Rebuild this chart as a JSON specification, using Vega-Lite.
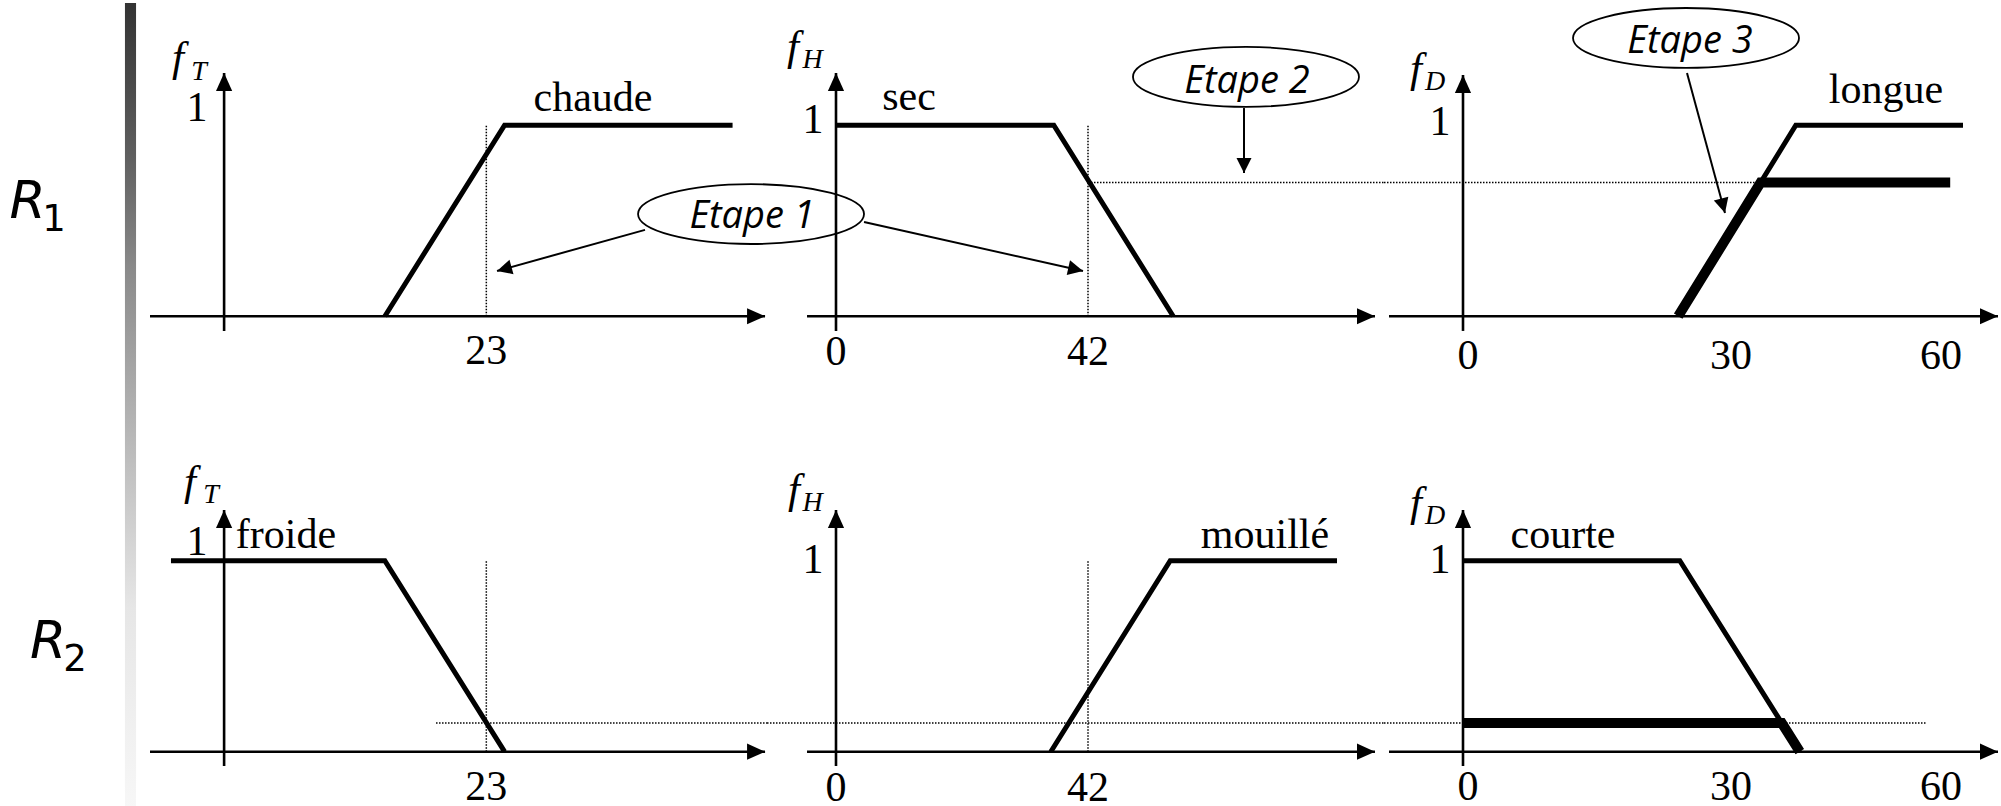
{
  "$schema": "https://vega.github.io/schema/vega-lite/v6.json",
  "padding": 0,
  "background": "white",
  "spacing": 0,
  "bounds": "flush",
  "config": {"view": {"stroke": null}, "axis": {"disable": true}, "legend": {"disable": true}},
  "datasets": {
    "rules": [
      {"type": "bar", "x": 0.833, "x2": 0.907, "y": 0, "y2": 1},
      {"type": "text", "role": "R", "text": "R", "x": 0.183, "y": 0.7333},
      {"type": "text", "role": "idx", "text": "1", "x": 0.36, "y": 0.7171},
      {"type": "text", "role": "R", "text": "R", "x": 0.32, "y": 0.1873},
      {"type": "text", "role": "idx", "text": "2", "x": 0.5, "y": 0.1712}
    ],
    "panels": [
      {"type": "frame", "rule": "R1", "var": "T", "x": -6.5, "y": -0.47},
      {"type": "frame", "rule": "R1", "var": "T", "x": 47.62, "y": 1.64},
      {"type": "axis", "rule": "R1", "var": "T", "x": -6.5, "x2": 47.45, "y": 0, "y2": 0, "dir": "right"},
      {"type": "axis", "rule": "R1", "var": "T", "x": 0, "x2": 0, "y": -0.077, "y2": 1.273, "dir": "up"},
      {"type": "mf", "rule": "R1", "var": "T", "term": "chaude", "i": 1, "x": 14.1, "y": 0},
      {"type": "mf", "rule": "R1", "var": "T", "term": "chaude", "i": 2, "x": 24.6, "y": 1},
      {"type": "mf", "rule": "R1", "var": "T", "term": "chaude", "i": 3, "x": 44.6, "y": 1},
      {"type": "guide", "rule": "R1", "var": "T", "x": 23, "x2": 23, "y": 0, "y2": 1},
      {"type": "text", "role": "num", "rule": "R1", "var": "T", "text": "1", "x": -2.38, "y": 1.022},
      {"type": "text", "role": "num", "rule": "R1", "var": "T", "text": "23", "x": 23, "y": -0.25},
      {"type": "text", "role": "f", "rule": "R1", "var": "T", "text": "f", "x": -4.04, "y": 1.284},
      {"type": "text", "role": "sub", "rule": "R1", "var": "T", "text": "T", "x": -2.2, "y": 1.237},
      {"type": "text", "role": "term", "rule": "R1", "var": "T", "text": "chaude", "x": 32.36, "y": 1.075},
      {"type": "text", "role": "etape", "rule": "R1", "var": "T", "text": "Etape 1", "x": 46.31, "y": 0.462},
      {"type": "ellipse", "rule": "R1", "var": "T", "x": 46.22, "y": 0.535},
      {"type": "arrow", "rule": "R1", "var": "T", "x": 36.92, "y": 0.452, "x2": 23.94, "y2": 0.237, "dir": "wsw"},

      {"type": "frame", "rule": "R1", "var": "H", "x": -11.5, "y": -0.47},
      {"type": "frame", "rule": "R1", "var": "H", "x": 91.333, "y": 1.64},
      {"type": "axis", "rule": "R1", "var": "H", "x": -4.83, "x2": 89.83, "y": 0, "y2": 0, "dir": "right"},
      {"type": "axis", "rule": "R1", "var": "H", "x": 0, "x2": 0, "y": -0.077, "y2": 1.273, "dir": "up"},
      {"type": "mf", "rule": "R1", "var": "H", "term": "sec", "i": 1, "x": 0, "y": 1},
      {"type": "mf", "rule": "R1", "var": "H", "term": "sec", "i": 2, "x": 36.3, "y": 1},
      {"type": "mf", "rule": "R1", "var": "H", "term": "sec", "i": 3, "x": 56.2, "y": 0},
      {"type": "guide", "rule": "R1", "var": "H", "x": 42, "x2": 42, "y": 0, "y2": 1},
      {"type": "guide", "rule": "R1", "var": "H", "x": 42, "x2": 91.333, "y": 0.7, "y2": 0.7},
      {"type": "text", "role": "num", "rule": "R1", "var": "H", "text": "1", "x": -3.83, "y": 0.959},
      {"type": "text", "role": "num", "rule": "R1", "var": "H", "text": "0", "x": 0, "y": -0.255},
      {"type": "text", "role": "num", "rule": "R1", "var": "H", "text": "42", "x": 42, "y": -0.255},
      {"type": "text", "role": "f", "rule": "R1", "var": "H", "text": "f", "x": -7.17, "y": 1.342},
      {"type": "text", "role": "sub", "rule": "R1", "var": "H", "text": "H", "x": -3.9, "y": 1.3},
      {"type": "text", "role": "term", "rule": "R1", "var": "H", "text": "sec", "x": 12.17, "y": 1.08},
      {"type": "text", "role": "etape", "rule": "R1", "var": "H", "text": "Etape 2", "x": 68.5, "y": 1.169},
      {"type": "ellipse", "rule": "R1", "var": "H", "x": 68.33, "y": 1.253},
      {"type": "arrow", "rule": "R1", "var": "H", "x": 4.67, "y": 0.493, "x2": 41.17, "y2": 0.237, "dir": "ese"},
      {"type": "arrow", "rule": "R1", "var": "H", "x": 68, "y": 1.09, "x2": 68, "y2": 0.75, "dir": "s"},

      {"type": "frame", "rule": "R1", "var": "D", "x": -9.875, "y": -0.47},
      {"type": "frame", "rule": "R1", "var": "D", "x": 67.25, "y": 1.64},
      {"type": "axis", "rule": "R1", "var": "D", "x": -9.25, "x2": 66.875, "y": 0, "y2": 0, "dir": "right"},
      {"type": "axis", "rule": "R1", "var": "D", "x": 0, "x2": 0, "y": -0.077, "y2": 1.263, "dir": "up"},
      {"type": "mf", "rule": "R1", "var": "D", "term": "longue", "i": 1, "x": 26.9, "y": 0},
      {"type": "mf", "rule": "R1", "var": "D", "term": "longue", "i": 2, "x": 41.6, "y": 1},
      {"type": "mf", "rule": "R1", "var": "D", "term": "longue", "i": 3, "x": 62.5, "y": 1},
      {"type": "cut", "rule": "R1", "var": "D", "term": "longue", "i": 1, "x": 26.9, "y": 0},
      {"type": "cut", "rule": "R1", "var": "D", "term": "longue", "i": 2, "x": 37.2, "y": 0.7},
      {"type": "cut", "rule": "R1", "var": "D", "term": "longue", "i": 3, "x": 60.9, "y": 0.7},
      {"type": "guide", "rule": "R1", "var": "D", "x": -9.875, "x2": 37.2, "y": 0.7, "y2": 0.7},
      {"type": "text", "role": "num", "rule": "R1", "var": "D", "text": "1", "x": -2.875, "y": 0.949},
      {"type": "text", "role": "num", "rule": "R1", "var": "D", "text": "0", "x": 0.625, "y": -0.276},
      {"type": "text", "role": "num", "rule": "R1", "var": "D", "text": "30", "x": 33.5, "y": -0.276},
      {"type": "text", "role": "num", "rule": "R1", "var": "D", "text": "60", "x": 59.75, "y": -0.276},
      {"type": "text", "role": "f", "rule": "R1", "var": "D", "text": "f", "x": -5.875, "y": 1.226},
      {"type": "text", "role": "sub", "rule": "R1", "var": "D", "text": "D", "x": -3.5, "y": 1.185},
      {"type": "text", "role": "term", "rule": "R1", "var": "D", "text": "longue", "x": 52.875, "y": 1.116},
      {"type": "text", "role": "etape", "rule": "R1", "var": "D", "text": "Etape 3", "x": 28.375, "y": 1.378},
      {"type": "ellipse", "rule": "R1", "var": "D", "x": 27.875, "y": 1.457},
      {"type": "arrow", "rule": "R1", "var": "D", "x": 28, "y": 1.273, "x2": 32.75, "y2": 0.54, "dir": "sse"},

      {"type": "frame", "rule": "R2", "var": "T", "x": -6.5, "y": -0.3},
      {"type": "frame", "rule": "R2", "var": "T", "x": 47.62, "y": 1.81},
      {"type": "axis", "rule": "R2", "var": "T", "x": -6.5, "x2": 47.45, "y": 0, "y2": 0, "dir": "right"},
      {"type": "axis", "rule": "R2", "var": "T", "x": 0, "x2": 0, "y": -0.075, "y2": 1.266, "dir": "up"},
      {"type": "mf", "rule": "R2", "var": "T", "term": "froide", "i": 1, "x": -4.66, "y": 1},
      {"type": "mf", "rule": "R2", "var": "T", "term": "froide", "i": 2, "x": 14.1, "y": 1},
      {"type": "mf", "rule": "R2", "var": "T", "term": "froide", "i": 3, "x": 24.6, "y": 0},
      {"type": "guide", "rule": "R2", "var": "T", "x": 23, "x2": 23, "y": 0, "y2": 1},
      {"type": "guide", "rule": "R2", "var": "T", "x": 18.59, "x2": 47.62, "y": 0.15, "y2": 0.15},
      {"type": "text", "role": "num", "rule": "R2", "var": "T", "text": "1", "x": -2.38, "y": 1.03},
      {"type": "text", "role": "num", "rule": "R2", "var": "T", "text": "23", "x": 23, "y": -0.253},
      {"type": "text", "role": "f", "rule": "R2", "var": "T", "text": "f", "x": -2.99, "y": 1.344},
      {"type": "text", "role": "sub", "rule": "R2", "var": "T", "text": "T", "x": -1.15, "y": 1.302},
      {"type": "text", "role": "term", "rule": "R2", "var": "T", "text": "froide", "x": 5.43, "y": 1.067},

      {"type": "frame", "rule": "R2", "var": "H", "x": -11.5, "y": -0.3},
      {"type": "frame", "rule": "R2", "var": "H", "x": 91.333, "y": 1.81},
      {"type": "axis", "rule": "R2", "var": "H", "x": -4.83, "x2": 89.83, "y": 0, "y2": 0, "dir": "right"},
      {"type": "axis", "rule": "R2", "var": "H", "x": 0, "x2": 0, "y": -0.075, "y2": 1.266, "dir": "up"},
      {"type": "mf", "rule": "R2", "var": "H", "term": "mouillé", "i": 1, "x": 35.8, "y": 0},
      {"type": "mf", "rule": "R2", "var": "H", "term": "mouillé", "i": 2, "x": 55.7, "y": 1},
      {"type": "mf", "rule": "R2", "var": "H", "term": "mouillé", "i": 3, "x": 83.5, "y": 1},
      {"type": "guide", "rule": "R2", "var": "H", "x": 42, "x2": 42, "y": 0, "y2": 1},
      {"type": "guide", "rule": "R2", "var": "H", "x": -11.5, "x2": 91.333, "y": 0.15, "y2": 0.15},
      {"type": "text", "role": "num", "rule": "R2", "var": "H", "text": "1", "x": -3.83, "y": 0.936},
      {"type": "text", "role": "num", "rule": "R2", "var": "H", "text": "0", "x": 0, "y": -0.258},
      {"type": "text", "role": "num", "rule": "R2", "var": "H", "text": "42", "x": 42, "y": -0.258},
      {"type": "text", "role": "f", "rule": "R2", "var": "H", "text": "f", "x": -7.0, "y": 1.302},
      {"type": "text", "role": "sub", "rule": "R2", "var": "H", "text": "H", "x": -3.9, "y": 1.26},
      {"type": "text", "role": "term", "rule": "R2", "var": "H", "text": "mouillé", "x": 71.5, "y": 1.067},

      {"type": "frame", "rule": "R2", "var": "D", "x": -9.875, "y": -0.3},
      {"type": "frame", "rule": "R2", "var": "D", "x": 67.25, "y": 1.81},
      {"type": "axis", "rule": "R2", "var": "D", "x": -9.25, "x2": 66.875, "y": 0, "y2": 0, "dir": "right"},
      {"type": "axis", "rule": "R2", "var": "D", "x": 0, "x2": 0, "y": -0.075, "y2": 1.266, "dir": "up"},
      {"type": "mf", "rule": "R2", "var": "D", "term": "courte", "i": 1, "x": 0, "y": 1},
      {"type": "mf", "rule": "R2", "var": "D", "term": "courte", "i": 2, "x": 27.1, "y": 1},
      {"type": "mf", "rule": "R2", "var": "D", "term": "courte", "i": 3, "x": 42.1, "y": 0},
      {"type": "cut", "rule": "R2", "var": "D", "term": "courte", "i": 1, "x": 0, "y": 0.15},
      {"type": "cut", "rule": "R2", "var": "D", "term": "courte", "i": 2, "x": 39.85, "y": 0.15},
      {"type": "cut", "rule": "R2", "var": "D", "term": "courte", "i": 3, "x": 42.1, "y": 0},
      {"type": "guide", "rule": "R2", "var": "D", "x": -9.875, "x2": 58, "y": 0.15, "y2": 0.15},
      {"type": "text", "role": "num", "rule": "R2", "var": "D", "text": "1", "x": -2.875, "y": 0.936},
      {"type": "text", "role": "num", "rule": "R2", "var": "D", "text": "0", "x": 0.625, "y": -0.255},
      {"type": "text", "role": "num", "rule": "R2", "var": "D", "text": "30", "x": 33.5, "y": -0.255},
      {"type": "text", "role": "num", "rule": "R2", "var": "D", "text": "60", "x": 59.75, "y": -0.255},
      {"type": "text", "role": "f", "rule": "R2", "var": "D", "text": "f", "x": -5.875, "y": 1.234},
      {"type": "text", "role": "sub", "rule": "R2", "var": "D", "text": "D", "x": -3.5, "y": 1.192},
      {"type": "text", "role": "term", "rule": "R2", "var": "D", "text": "courte", "x": 12.5, "y": 1.067}
    ]
  },
  "hconcat": [
    {
      "data": {"name": "rules"},
      "width": 150,
      "height": 806,
      "layer": [
        {
          "transform": [{"filter": "datum.type === 'bar'"}],
          "mark": {"type": "rect", "fill": {"gradient": "linear", "x1": 0, "y1": 0, "x2": 0, "y2": 1, "stops": [{"offset": 0, "color": "#333333"}, {"offset": 0.19, "color": "#5f5f5f"}, {"offset": 0.33, "color": "#8a8a8a"}, {"offset": 0.75, "color": "#e6e6e6"}, {"offset": 1, "color": "#f7f7f7"}]}, "strokeWidth": 0},
          "encoding": {
            "x": {"field": "x", "type": "quantitative", "scale": {"domain": [0, 1], "nice": false, "zero": false}},
            "x2": {"field": "x2"},
            "y": {"field": "y", "type": "quantitative", "scale": {"domain": [0, 1], "nice": false, "zero": false}},
            "y2": {"field": "y2"}
          }
        },
        {
          "transform": [{"filter": "datum.role === 'R'"}],
          "mark": {"type": "text", "font": "DejaVu Sans", "fontStyle": "italic", "fontSize": 52, "align": "center", "baseline": "alphabetic", "color": "black"},
          "encoding": {
            "x": {"field": "x", "type": "quantitative"},
            "y": {"field": "y", "type": "quantitative"},
            "text": {"field": "text"}
          }
        },
        {
          "transform": [{"filter": "datum.role === 'idx'"}],
          "mark": {"type": "text", "font": "DejaVu Sans", "fontSize": 37, "align": "center", "baseline": "alphabetic", "color": "black"},
          "encoding": {
            "x": {"field": "x", "type": "quantitative"},
            "y": {"field": "y", "type": "quantitative"},
            "text": {"field": "text"}
          }
        }
      ]
    },
    {
      "data": {"name": "panels"},
      "facet": {
        "row": {"field": "rule", "type": "nominal", "header": null},
        "column": {"field": "var", "type": "nominal", "sort": ["T", "H", "D"], "header": null}
      },
      "spacing": 0,
      "bounds": "flush",
      "resolve": {"scale": {"x": "independent", "y": "independent"}},
      "spec": {
        "width": 617,
        "height": 403,
        "layer": [
          {
            "transform": [{"filter": "datum.type === 'frame'"}],
            "mark": {"type": "point", "opacity": 0},
            "encoding": {
              "x": {"field": "x", "type": "quantitative", "scale": {"nice": false, "zero": false, "padding": 0}},
              "y": {"field": "y", "type": "quantitative", "scale": {"nice": false, "zero": false, "padding": 0}}
            }
          },
          {
            "transform": [{"filter": "datum.type === 'guide'"}],
            "mark": {"type": "rule", "color": "black", "strokeWidth": 1.5, "strokeDash": [1.5, 1.5]},
            "encoding": {
              "x": {"field": "x", "type": "quantitative"},
              "x2": {"field": "x2"},
              "y": {"field": "y", "type": "quantitative"},
              "y2": {"field": "y2"}
            }
          },
          {
            "transform": [{"filter": "datum.type === 'axis'"}],
            "mark": {"type": "rule", "color": "black", "strokeWidth": 2.6},
            "encoding": {
              "x": {"field": "x", "type": "quantitative"},
              "x2": {"field": "x2"},
              "y": {"field": "y", "type": "quantitative"},
              "y2": {"field": "y2"}
            }
          },
          {
            "transform": [{"filter": "datum.type === 'axis' && datum.dir === 'up'"}],
            "mark": {"type": "point", "shape": "M0,0L-0.9,2L0.9,2Z", "filled": true, "color": "black", "opacity": 1, "size": 324, "strokeWidth": 0, "angle": 0},
            "encoding": {
              "x": {"field": "x2", "type": "quantitative"},
              "y": {"field": "y2", "type": "quantitative"}
            }
          },
          {
            "transform": [{"filter": "datum.type === 'axis' && datum.dir === 'right'"}],
            "mark": {"type": "point", "shape": "M0,0L-0.9,2L0.9,2Z", "filled": true, "color": "black", "opacity": 1, "size": 324, "strokeWidth": 0, "angle": 90},
            "encoding": {
              "x": {"field": "x2", "type": "quantitative"},
              "y": {"field": "y2", "type": "quantitative"}
            }
          },
          {
            "transform": [{"filter": "datum.type === 'mf'"}],
            "mark": {"type": "line", "color": "black", "strokeWidth": 5, "strokeJoin": "miter"},
            "encoding": {
              "x": {"field": "x", "type": "quantitative"},
              "y": {"field": "y", "type": "quantitative"},
              "detail": {"field": "term"},
              "order": {"field": "i", "type": "quantitative"}
            }
          },
          {
            "transform": [{"filter": "datum.type === 'cut'"}],
            "mark": {"type": "line", "color": "black", "strokeWidth": 10, "strokeJoin": "miter"},
            "encoding": {
              "x": {"field": "x", "type": "quantitative"},
              "y": {"field": "y", "type": "quantitative"},
              "detail": {"field": "term"},
              "order": {"field": "i", "type": "quantitative"}
            }
          },
          {
            "transform": [{"filter": "datum.type === 'ellipse'"}],
            "mark": {"type": "point", "shape": "M-1,0A1,0.265,0,1,1,1,0A1,0.265,0,1,1,-1,0Z", "filled": false, "color": "black", "opacity": 1, "strokeWidth": 1.8, "size": 51076},
            "encoding": {
              "x": {"field": "x", "type": "quantitative"},
              "y": {"field": "y", "type": "quantitative"}
            }
          },
          {
            "transform": [{"filter": "datum.type === 'arrow'"}],
            "mark": {"type": "rule", "color": "black", "strokeWidth": 2},
            "encoding": {
              "x": {"field": "x", "type": "quantitative"},
              "x2": {"field": "x2"},
              "y": {"field": "y", "type": "quantitative"},
              "y2": {"field": "y2"}
            }
          },
          {
            "transform": [{"filter": "datum.type === 'arrow' && datum.dir === 's'"}],
            "mark": {"type": "point", "shape": "M0,0L-1,2L1,2Z", "filled": true, "color": "black", "opacity": 1, "size": 225, "strokeWidth": 0, "angle": 180},
            "encoding": {
              "x": {"field": "x2", "type": "quantitative"},
              "y": {"field": "y2", "type": "quantitative"}
            }
          },
          {
            "transform": [{"filter": "datum.type === 'arrow' && datum.dir === 'wsw'"}],
            "mark": {"type": "point", "shape": "M0,0L-1,2L1,2Z", "filled": true, "color": "black", "opacity": 1, "size": 225, "strokeWidth": 0, "angle": 254.5},
            "encoding": {
              "x": {"field": "x2", "type": "quantitative"},
              "y": {"field": "y2", "type": "quantitative"}
            }
          },
          {
            "transform": [{"filter": "datum.type === 'arrow' && datum.dir === 'ese'"}],
            "mark": {"type": "point", "shape": "M0,0L-1,2L1,2Z", "filled": true, "color": "black", "opacity": 1, "size": 225, "strokeWidth": 0, "angle": 102.6},
            "encoding": {
              "x": {"field": "x2", "type": "quantitative"},
              "y": {"field": "y2", "type": "quantitative"}
            }
          },
          {
            "transform": [{"filter": "datum.type === 'arrow' && datum.dir === 'sse'"}],
            "mark": {"type": "point", "shape": "M0,0L-1,2L1,2Z", "filled": true, "color": "black", "opacity": 1, "size": 225, "strokeWidth": 0, "angle": 164.8},
            "encoding": {
              "x": {"field": "x2", "type": "quantitative"},
              "y": {"field": "y2", "type": "quantitative"}
            }
          },
          {
            "transform": [{"filter": "datum.role === 'num' || datum.role === 'term'"}],
            "mark": {"type": "text", "font": "Liberation Serif", "fontSize": 42, "align": "center", "baseline": "alphabetic", "color": "black"},
            "encoding": {
              "x": {"field": "x", "type": "quantitative"},
              "y": {"field": "y", "type": "quantitative"},
              "text": {"field": "text"}
            }
          },
          {
            "transform": [{"filter": "datum.role === 'f'"}],
            "mark": {"type": "text", "font": "Liberation Serif", "fontStyle": "italic", "fontSize": 43, "align": "center", "baseline": "alphabetic", "color": "black"},
            "encoding": {
              "x": {"field": "x", "type": "quantitative"},
              "y": {"field": "y", "type": "quantitative"},
              "text": {"field": "text"}
            }
          },
          {
            "transform": [{"filter": "datum.role === 'sub'"}],
            "mark": {"type": "text", "font": "Liberation Serif", "fontStyle": "italic", "fontSize": 28, "align": "center", "baseline": "alphabetic", "color": "black"},
            "encoding": {
              "x": {"field": "x", "type": "quantitative"},
              "y": {"field": "y", "type": "quantitative"},
              "text": {"field": "text"}
            }
          },
          {
            "transform": [{"filter": "datum.role === 'etape'"}],
            "mark": {"type": "text", "font": "Open Sans", "fontStyle": "italic", "fontSize": 38, "align": "center", "baseline": "alphabetic", "color": "black"},
            "encoding": {
              "x": {"field": "x", "type": "quantitative"},
              "y": {"field": "y", "type": "quantitative"},
              "text": {"field": "text"}
            }
          }
        ]
      }
    }
  ]
}
